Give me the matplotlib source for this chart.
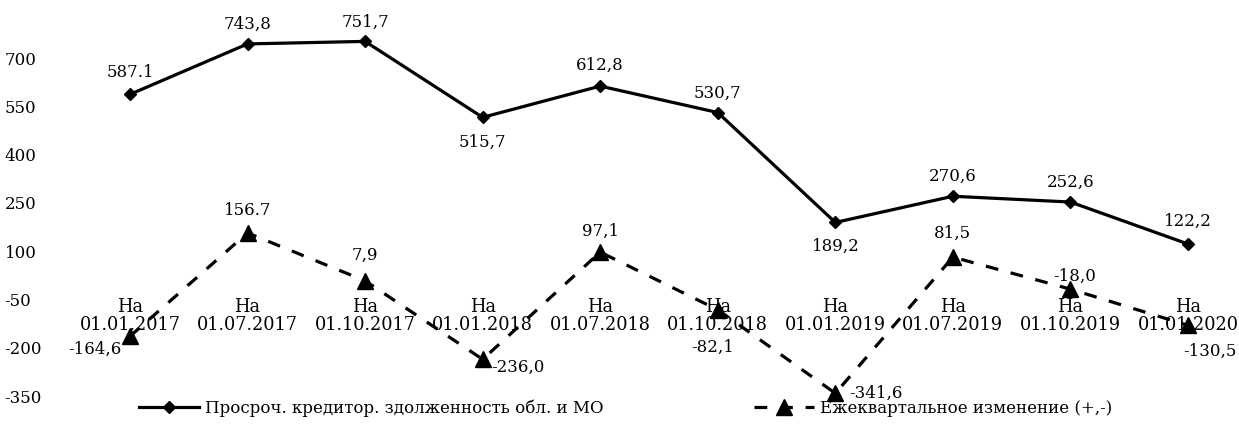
import numpy as np
import matplotlib
matplotlib.use("Agg")
import matplotlib.pyplot as plt

# quarterly dates (x categories)
dates = ["01.01.2017", "01.07.2017", "01.10.2017", "01.01.2018", "01.07.2018",
         "01.10.2018", "01.01.2019", "01.07.2019", "01.10.2019", "01.01.2020"]

# overdue accounts payable, region + municipalities
debt = [587.1, 743.8, 751.7, 515.7, 612.8, 530.7, 189.2, 270.6, 252.6, 122.2]
debt_labels = ["587.1", "743,8", "751,7", "515,7", "612,8",
               "530,7", "189,2", "270,6", "252,6", "122,2"]

# quarterly change (+,-)
change = [-164.6, 156.7, 7.9, -236.0, 97.1, -82.1, -341.6, 81.5, -18.0, -130.5]
change_labels = ["-164,6", "156.7", "7,9", "-236,0", "97,1",
                 "-82,1", "-341,6", "81,5", "-18,0", "-130,5"]

yticks = [700, 550, 400, 250, 100, -50, -200, -350]

# label placement (offset in points, horizontal alignment)
debt_offs = [(0, 16), (0, 14), (0, 14), (0, -18), (0, 15),
             (0, 14), (0, -17), (0, 14), (0, 14), (0, 16)]
change_offs = [(-25, -9, "center"), (0, 16, "center"), (0, 18, "center"),
               (6, -6, "left"), (0, 15, "center"), (-4, -27, "center"),
               (10, 0, "left"), (0, 17, "center"), (3, 9, "center"),
               (16, -19, "center")]

plt.rcParams["font.family"] = ["DejaVu Serif"]
FS = 12

fig = plt.figure(figsize=(12.39, 4.26), dpi=100)
ax = fig.add_axes([60 / 1239, 0.0477, 1170 / 1239, 0.937])
# move the (hidden) category axis up into the plot, before styling ticks
ax.spines["bottom"].set_position(("data", -42))

x = np.arange(len(dates))
l1, = ax.plot(x, debt, color="black", lw=2.3, marker="D", ms=6,
              label="Просроч. кредитор. здолженность обл. и МО")
l2, = ax.plot(x, change, color="black", lw=2.3, ls=(0, (4, 4)), marker="^",
              ms=11, label="Ежеквартальное изменение (+,-)")

for xi, v, s, (dx, dy) in zip(x, debt, debt_labels, debt_offs):
    ax.annotate(s, (xi, v), xytext=(dx, dy), textcoords="offset points",
                ha="center", va="center", fontsize=FS)
for xi, v, s, (dx, dy, ha) in zip(x, change, change_labels, change_offs):
    ax.annotate(s, (xi, v), xytext=(dx, dy), textcoords="offset points",
                ha=ha, va="center", fontsize=FS)

ax.set_xlim(-0.595, 9.357)
ax.set_ylim(-380, 860)
ax.set_yticks(yticks)
ax.set_yticklabels([str(t) for t in yticks], fontsize=FS, ha="left")
ax.tick_params(axis="y", length=0, pad=40)

ax.set_xticks(x)
ax.set_xticklabels(["На\n" + d for d in dates], fontsize=12.8, linespacing=0.95)
ax.tick_params(axis="x", length=0, pad=1)

for sp in ax.spines.values():
    sp.set_visible(False)

fig.legend(handles=[l1, l2], loc="center", bbox_to_anchor=(0.505, 0.042),
           ncol=2, frameon=False, fontsize=FS, handlelength=3.6,
           handletextpad=0.4, columnspacing=9, borderaxespad=0)

fig.savefig("out.png", dpi=100)
